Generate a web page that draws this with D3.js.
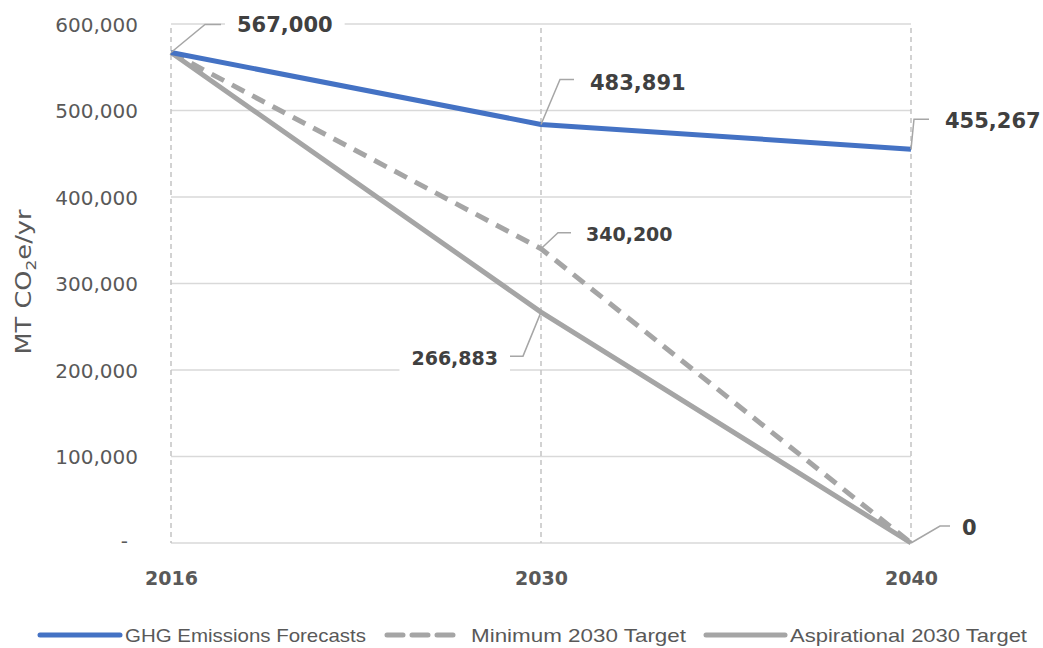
<!DOCTYPE html>
<html>
<head>
<meta charset="utf-8">
<script src="https://cdn.jsdelivr.net/npm/d3@7"></script>
<style>
  html, body { margin: 0; padding: 0; background: #fff; }
  svg { display: block; }
</style>
</head>
<body>
<svg id="chart" width="1043" height="648"></svg>
<script>
// Emission pathways, MT CO2e per year
const years = ["2016", "2030", "2040"];
const ghgForecast = [567000, 483891, 455267];
const minimumTarget = [567000, 340200, 0];
const aspirationalTarget = [567000, 266883, 0];
const yTicks = [0, 100000, 200000, 300000, 400000, 500000, 600000];
const seriesNames = ["GHG Emissions Forecasts", "Minimum 2030 Target", "Aspirational 2030 Target"];

const svg = d3.select("#chart");
const x = d3.scalePoint().domain(years).range([171, 911]);
const y = d3.scaleLinear().domain([0, 600000]).range([543, 24]);
const fmt = d3.format(",");

const BLUE = "#4472C4", GREY = "#A5A5A5";
const TICK_FONT = "'DejaVu Sans', sans-serif";

// horizontal gridlines
svg.append("g").selectAll("line").data(yTicks).join("line")
  .attr("x1", x("2016")).attr("x2", x("2040"))
  .attr("y1", d => y(d)).attr("y2", d => y(d))
  .attr("stroke", "#d9d9d9").attr("stroke-width", 1.5);

// vertical dashed gridlines at each year
svg.append("g").selectAll("line").data(years).join("line")
  .attr("x1", d => x(d)).attr("x2", d => x(d))
  .attr("y1", y(600000) + 4).attr("y2", y(0))
  .attr("stroke", "#c4c4c4").attr("stroke-width", 1.5)
  .attr("stroke-dasharray", "5,4");

// y axis labels
const yAxis = d3.axisLeft(y).tickValues(yTicks)
  .tickFormat(d => d === 0 ? "-" : fmt(d)).tickSize(0).tickPadding(0);
const yg = svg.append("g").attr("transform", "translate(138,0)").call(yAxis);
yg.select(".domain").remove();
yg.selectAll("text")
  .attr("font-family", TICK_FONT).attr("font-size", 20).attr("fill", "#595959")
  .attr("dy", "0.36em");
yg.selectAll("text").filter(d => d === 0).attr("x", -10).attr("dy", "0.2em");

// x axis labels
const xAxis = d3.axisBottom(x).tickSize(0).tickPadding(0);
const xg = svg.append("g").attr("transform", "translate(0,578)").call(xAxis);
xg.select(".domain").remove();
xg.selectAll("text")
  .attr("font-family", TICK_FONT).attr("font-size", 19).attr("font-weight", "bold")
  .attr("fill", "#595959").attr("dy", "0.36em");

// axis title
const title = svg.append("text")
  .attr("transform", "translate(31,282) rotate(-90)")
  .attr("text-anchor", "middle")
  .attr("font-family", TICK_FONT).attr("font-size", 21).attr("fill", "#595959")
  .attr("textLength", 145).attr("lengthAdjust", "spacingAndGlyphs");
title.append("tspan").text("MT CO");
title.append("tspan").attr("font-size", 14).attr("dy", 5).text("2");
title.append("tspan").attr("dy", -5).text("e/yr");

// series lines
const line = d3.line().x((d, i) => x(years[i])).y(d => y(d));
const series = [
  { name: seriesNames[2], values: aspirationalTarget, color: GREY, dash: null },
  { name: seriesNames[1], values: minimumTarget, color: GREY, dash: "14,9" },
  { name: seriesNames[0], values: ghgForecast, color: BLUE, dash: null }
];
svg.append("g").selectAll("path").data(series).join("path")
  .attr("d", d => line(d.values))
  .attr("fill", "none")
  .attr("stroke", d => d.color)
  .attr("stroke-width", 5)
  .attr("stroke-linejoin", "round")
  .attr("stroke-dasharray", d => d.dash);

// data labels with leader lines: [x offset/y of elbow & end relative to point, text position]
const labels = [
  { year: "2016", value: ghgForecast[0], elbow: [34, -28], end: [50, -28], tx: 66, ty: -28, anchor: "start", size: 21 },
  { year: "2030", value: ghgForecast[1], elbow: [19, -45], end: [33, -45], tx: 49, ty: -42, anchor: "start", size: 21 },
  { year: "2040", value: ghgForecast[2], elbow: [3, -30], end: [18, -30], tx: 34, ty: -29, anchor: "start", size: 21 },
  { year: "2030", value: minimumTarget[1], elbow: [17, -16], end: [30, -16], tx: 45, ty: -15, anchor: "start", size: 19 },
  { year: "2030", value: aspirationalTarget[1], elbow: [-18, 44], end: [-33, 44], tx: -43, ty: 46, anchor: "end", size: 19 },
  { year: "2040", value: aspirationalTarget[2], elbow: [29, -17], end: [41, -17], tx: 51, ty: -16, anchor: "start", size: 21 }
];

const lg = svg.append("g");
labels.forEach(l => {
  const px = x(l.year), py = y(l.value);
  lg.append("path")
    .attr("d", `M${px},${py}L${px + l.elbow[0]},${py + l.elbow[1]}L${px + l.end[0]},${py + l.end[1]}`)
    .attr("fill", "none").attr("stroke", "#a6a6a6").attr("stroke-width", 1.5);
  const g = lg.append("g");
  const t = g.append("text")
    .attr("x", px + l.tx).attr("y", py + l.ty).attr("dy", "0.36em")
    .attr("text-anchor", l.anchor)
    .attr("font-family", TICK_FONT).attr("font-size", l.size).attr("font-weight", "bold")
    .attr("fill", "#404040")
    .text(fmt(l.value));
  const bb = t.node().getBBox();
  g.insert("rect", "text")
    .attr("x", bb.x - 12).attr("y", bb.y - 4)
    .attr("width", bb.width + 24).attr("height", bb.height + 8)
    .attr("fill", "#fff");
});

// legend
const legendItems = [
  { name: seriesNames[0], color: BLUE, dash: null, x0: 40, x1: 120, tx: 125, len: 241 },
  { name: seriesNames[1], color: GREY, dash: "16,9", x0: 387, x1: 460, tx: 471, len: 215 },
  { name: seriesNames[2], color: GREY, dash: null, x0: 706, x1: 785, tx: 790, len: 237 }
];
const leg = svg.append("g").attr("transform", "translate(0,635)");
leg.selectAll("line").data(legendItems).join("line")
  .attr("x1", d => d.x0).attr("x2", d => d.x1)
  .attr("stroke", d => d.color).attr("stroke-width", 5)
  .attr("stroke-linecap", "round")
  .attr("stroke-dasharray", d => d.dash);
leg.selectAll("text").data(legendItems).join("text")
  .attr("x", d => d.tx).attr("dy", "0.36em")
  .attr("font-family", "'Liberation Sans Narrow', 'Liberation Sans', sans-serif")
  .attr("font-size", 19).attr("fill", "#595959")
  .attr("textLength", d => d.len).attr("lengthAdjust", "spacingAndGlyphs")
  .text(d => d.name);
</script>
</body>
</html>
